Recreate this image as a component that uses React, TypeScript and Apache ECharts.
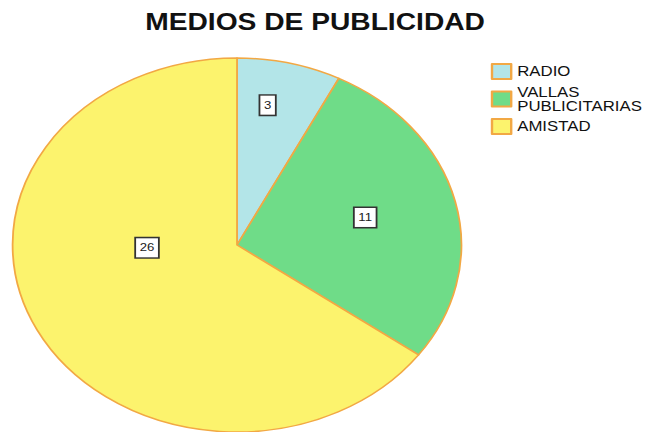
import React, { useEffect, useRef } from "react";
import * as echarts from "echarts";

const TITLE = "MEDIOS DE PUBLICIDAD";
const CATEGORIES = ["RADIO", "VALLAS PUBLICITARIAS", "AMISTAD"];
const VALUES = [3, 11, 26];
const COLORS = ["#b3e5e8", "#6fdc88", "#fcf36d"];

// styling: the reference is horizontally stretched, so the chart is drawn narrower and stretched by CSS
const STRETCH = 1.2;
const CHART_W = 541;
const CHART_H = 432;
const LABEL_SHIFT = [
  [3, -46],
  [13, -5],
  [11, -41],
];

export default function App() {
  const ref = useRef<HTMLDivElement>(null);
  useEffect(() => {
    if (!ref.current) return;
    const chart = echarts.init(ref.current, undefined, { renderer: "svg" });
    chart.setOption({
      animation: false,
      backgroundColor: "#ffffff",
      title: {
        text: TITLE,
        left: 116,
        top: 5,
        textStyle: {
          fontFamily: "Liberation Sans",
          fontSize: 23.5,
          fontWeight: "bold",
          color: "#111111",
        },
      },
      legend: {
        orient: "vertical",
        left: 404,
        top: 58,
        itemWidth: 16,
        itemHeight: 15,
        itemGap: 5,
        icon: "rect",
        formatter: (name: string) => name.replace(" ", "\n"),
        textStyle: {
          fontFamily: "Liberation Sans",
          fontSize: 14,
          lineHeight: 14,
          color: "#111111",
        },
        data: CATEGORIES,
      },
      series: [
        {
          type: "pie",
          center: [197.5, 245],
          radius: 187,
          startAngle: 90,
          clockwise: true,
          silent: true,
          itemStyle: { borderColor: "#f2a844", borderWidth: 1.5 },
          label: {
            show: true,
            position: "inside",
            formatter: "{c}",
            fontFamily: "Liberation Sans",
            fontSize: 11,
            color: "#222222",
            backgroundColor: "#ffffff",
            borderColor: "#333333",
            borderWidth: 1.5,
            padding: [4, 3],
          },
          labelLine: { show: false },
          labelLayout: (p: any) => ({
            dx: LABEL_SHIFT[p.dataIndex][0],
            dy: LABEL_SHIFT[p.dataIndex][1],
          }),
          data: CATEGORIES.map((name, i) => ({
            name,
            value: VALUES[i],
            itemStyle: { color: COLORS[i] },
          })),
        },
      ],
    });
    return () => chart.dispose();
  }, []);

  return (
    <div
      style={{
        position: "fixed",
        left: 0,
        top: 0,
        width: 649,
        height: 432,
        overflow: "hidden",
        background: "#ffffff",
      }}
    >
      <div
        ref={ref}
        style={{
          width: CHART_W,
          height: CHART_H,
          transform: `scaleX(${STRETCH})`,
          transformOrigin: "0 0",
        }}
      />
    </div>
  );
}
